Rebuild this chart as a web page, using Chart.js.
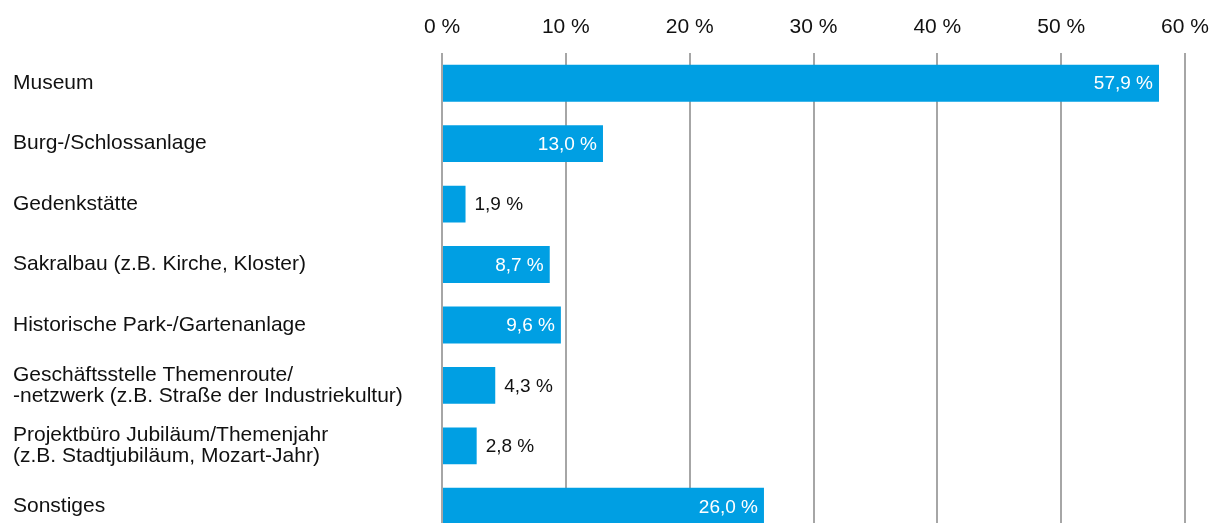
<!DOCTYPE html>
<html>
<head>
<meta charset="utf-8">
<script src="https://cdn.jsdelivr.net/npm/chart.js@4"></script>
<style>
  html, body { margin: 0; padding: 0; background: #fff; overflow: hidden; }
  #wrap { width: 1218px; height: 550px; position: relative; }
</style>
</head>
<body>
<div id="wrap"><canvas id="myChart"></canvas></div>
<script>
// categories and values
const categories = [
    'Museum',
    'Burg-/Schlossanlage',
    'Gedenkstätte',
    'Sakralbau (z.B. Kirche, Kloster)',
    'Historische Park-/Gartenanlage',
    ['Geschäftsstelle Themenroute/', '-netzwerk (z.B. Straße der Industriekultur)'],
    ['Projektbüro Jubiläum/Themenjahr', '(z.B. Stadtjubiläum, Mozart-Jahr)'],
    'Sonstiges'
];
const shares = [57.9, 13.0, 1.9, 8.7, 9.6, 4.3, 2.8, 26.0];
const xTicks = [0, 10, 20, 30, 40, 50, 60];

const fmt = v => v.toFixed(1).replace('.', ',') + ' %';

// value labels: white inside the bar, black just outside when the bar is short
const valueLabels = {
    id: 'valueLabels',
    afterDatasetsDraw(chart) {
        const ctx = chart.ctx;
        const meta = chart.getDatasetMeta(0);
        ctx.save();
        ctx.font = '19px "Liberation Sans", Arial, sans-serif';
        ctx.textBaseline = 'middle';
        meta.data.forEach((bar, i) => {
            const txt = fmt(shares[i]);
            const w = ctx.measureText(txt).width;
            const len = bar.x - bar.base;
            if (len > w + 14) {
                ctx.fillStyle = '#ffffff';
                ctx.textAlign = 'right';
                ctx.fillText(txt, bar.x - 6, bar.y + 1);
            } else {
                ctx.fillStyle = '#111111';
                ctx.textAlign = 'left';
                ctx.fillText(txt, bar.x + 9, bar.y + 1);
            }
        });
        ctx.restore();
    }
};

const config = {
    type: 'bar',
    data: {
        labels: categories,
        datasets: [{
            data: shares,
            backgroundColor: '#009fe3',
            borderWidth: 0,
            barPercentage: 0.61,
            categoryPercentage: 1
        }]
    },
    options: {
        indexAxis: 'y',
        responsive: true,
        maintainAspectRatio: false,
        animation: false,
        layout: { padding: { left: 13, right: 33, top: 0, bottom: 9 } },
        plugins: {
            legend: { display: false },
            tooltip: { enabled: false }
        },
        scales: {
            x: {
                position: 'top',
                min: 0,
                max: 60,
                afterBuildTicks: axis => { axis.ticks = xTicks.map(v => ({ value: v })); },
                afterFit: axis => { axis.height = 53; axis.paddingLeft = 0; axis.paddingRight = 0; },
                border: { display: false },
                grid: { color: '#a6a6a6', lineWidth: 2, drawTicks: false },
                ticks: {
                    padding: 13,
                    color: '#111111',
                    font: { family: '"Liberation Sans", Arial, sans-serif', size: 21 },
                    callback: v => v + ' %'
                }
            },
            y: {
                afterFit: axis => { axis.width = 429; },
                border: { display: false },
                grid: { display: false },
                ticks: {
                    crossAlign: 'far',
                    color: '#111111',
                    font: { family: '"Liberation Sans", Arial, sans-serif', size: 21, lineHeight: 1.0 }
                }
            }
        }
    },
    plugins: [valueLabels]
};

const myChart = new Chart(document.getElementById('myChart'), config);
</script>
</body>
</html>
